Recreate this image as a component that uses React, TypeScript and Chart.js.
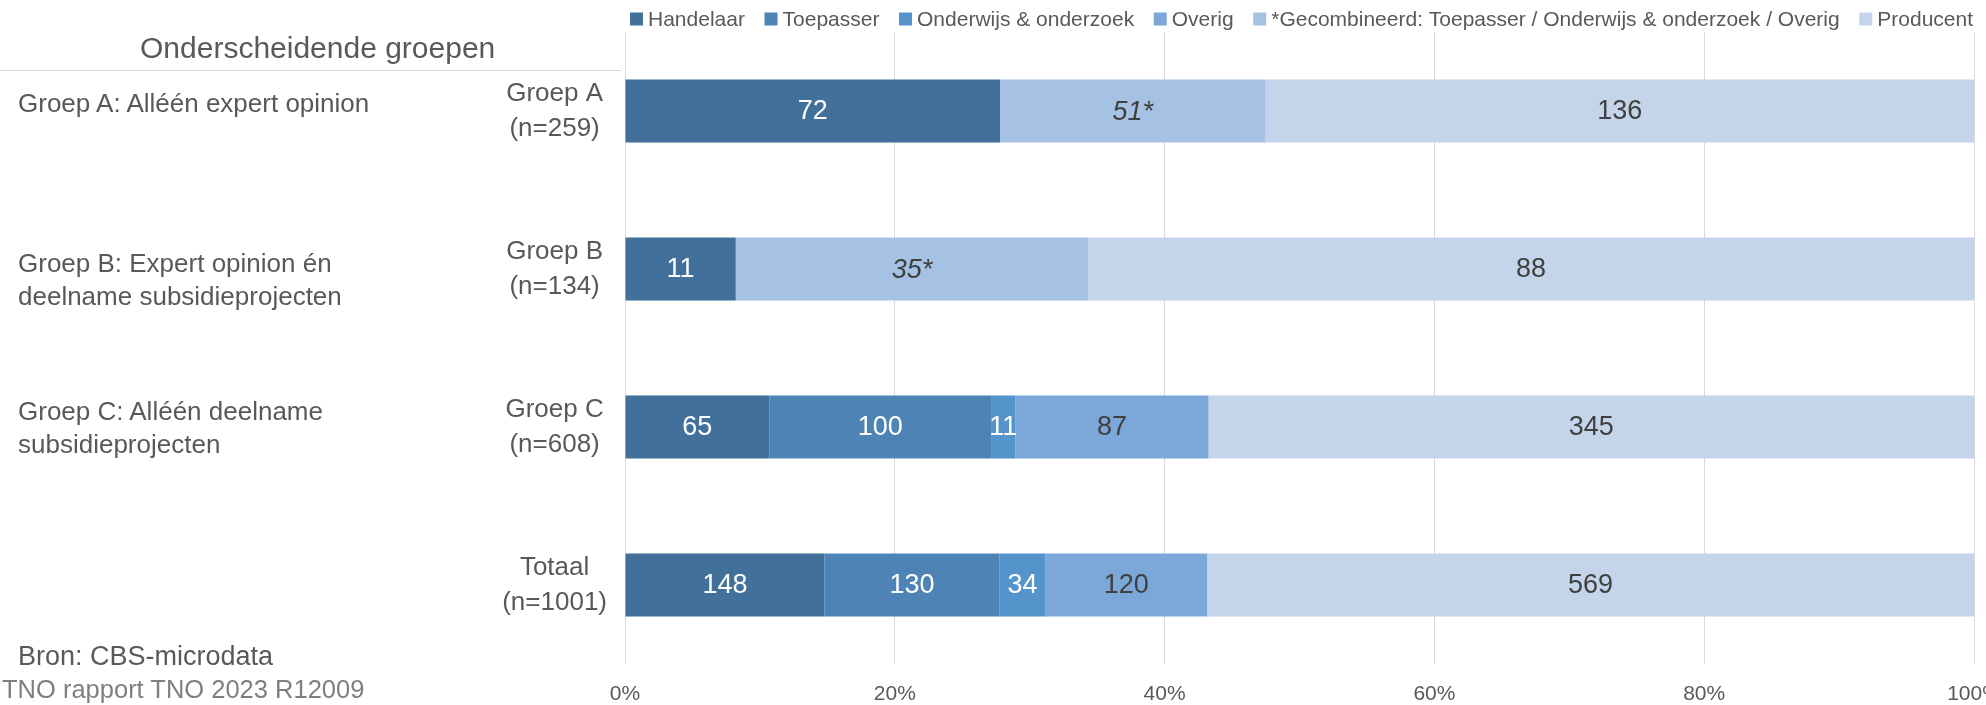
import React, { useEffect, useRef } from "react";
import { Chart, registerables } from "chart.js";

Chart.register(...registerables);

const FONT = '"Liberation Sans", Arial, sans-serif';
const TEXT = "#595959";

// ---- data ----
const categories: string[][] = [
  ["Groep A", "(n=259)"],
  ["Groep B", "(n=134)"],
  ["Groep C", "(n=608)"],
  ["Totaal", "(n=1001)"],
];

const seriesNames = [
  "Handelaar",
  "Toepasser",
  "Onderwijs & onderzoek",
  "Overig",
  "*Gecombineerd: Toepasser / Onderwijs & onderzoek / Overig",
  "Producent",
];

const handelaar = [72, 11, 65, 148];
const toepasser = [null, null, 100, 130];
const onderwijs = [null, null, 11, 34];
const overig = [null, null, 87, 120];
const gecombineerd = [51, 35, null, null];
const producent = [136, 88, 345, 569];

const xTickLabels = ["0%", "20%", "40%", "60%", "80%", "100%"];

const panelTitle = "Onderscheidende groepen";
const groupDescriptions: string[][] = [
  ["Groep A: Alléén expert opinion"],
  ["Groep B: Expert opinion én", "deelname subsidieprojecten"],
  ["Groep C: Alléén deelname", "subsidieprojecten"],
];
const sourceNote = "Bron: CBS-microdata";
const reportNote = "TNO rapport TNO 2023 R12009";

// ---- styles ----
const seriesColors = ["#41709b", "#4e83b5", "#5593cb", "#7ba8d9", "#a5c1e4", "#c4d5eb"];
const labelColors = ["#ffffff", "#ffffff", "#ffffff", "#404040", "#404040", "#404040"];
const labelItalic = [false, false, false, false, true, false];
const labelSuffix = ["", "", "", "", "*", ""];

const seriesCounts: (number | null)[][] = [handelaar, toepasser, onderwijs, overig, gecombineerd, producent];

const totals = categories.map((_, j) =>
  seriesCounts.reduce((s, arr) => s + (arr[j] == null ? 0 : (arr[j] as number)), 0)
);

const valueLabelPlugin = {
  id: "valueLabels",
  afterDatasetsDraw(chart: any) {
    const ctx = chart.ctx;
    ctx.save();
    ctx.textAlign = "center";
    ctx.textBaseline = "middle";
    chart.data.datasets.forEach((_ds: any, i: number) => {
      const meta = chart.getDatasetMeta(i);
      meta.data.forEach((el: any, j: number) => {
        const v = seriesCounts[i][j];
        if (v == null) return;
        const { x, y, base } = el.getProps(["x", "y", "base"], true);
        ctx.font = `${labelItalic[i] ? "italic " : ""}27px ${FONT}`;
        ctx.fillStyle = labelColors[i];
        ctx.fillText(String(v) + labelSuffix[i], (x + base) / 2, y + 1);
      });
    });
    ctx.restore();
  },
};

const legendPlugin = {
  id: "topLegend",
  afterDraw(chart: any) {
    const ctx = chart.ctx;
    ctx.save();
    ctx.font = `21px ${FONT}`;
    const box = 13;
    const boxGap = 5;
    const widths = seriesNames.map((n) => ctx.measureText(n).width);
    const left = 630;
    const right = 1973;
    const itemsW = widths.reduce((s, w) => s + box + boxGap + w, 0);
    const gap = (right - left - itemsW) / (seriesNames.length - 1);
    let x = left;
    const cy = 19;
    ctx.textBaseline = "middle";
    ctx.textAlign = "left";
    seriesNames.forEach((n, i) => {
      ctx.fillStyle = seriesColors[i];
      ctx.fillRect(x, cy - box / 2, box, box);
      ctx.fillStyle = TEXT;
      ctx.fillText(n, x + box + boxGap, cy + 1);
      x += box + boxGap + widths[i] + gap;
    });
    ctx.restore();
  },
};

export default function App() {
  const canvasRef = useRef<HTMLCanvasElement | null>(null);

  useEffect(() => {
    if (!canvasRef.current) return;
    const datasets = seriesNames.map((name, i) => ({
      label: name,
      data: seriesCounts[i].map((v, j) => (v == null ? null : (v / totals[j]) * 100)),
      backgroundColor: seriesColors[i],
      borderWidth: 0,
      categoryPercentage: 0.4,
      barPercentage: 1,
    }));

    const chart = new Chart(canvasRef.current, {
      type: "bar",
      data: { labels: categories, datasets },
      options: {
        indexAxis: "y",
        responsive: false,
        animation: false,
        layout: { padding: { top: 32, right: 12, bottom: 0, left: 0 } },
        plugins: {
          legend: { display: false },
          tooltip: { enabled: false },
        },
        scales: {
          x: {
            stacked: true,
            min: 0,
            max: 100,
            position: "bottom",
            ticks: {
              stepSize: 20,
              autoSkip: false,
              maxRotation: 0,
              padding: 18,
              color: TEXT,
              font: { size: 21, family: FONT },
              callback: (_v: any, i: number) => xTickLabels[i],
            },
            grid: { color: "#d9d9d9", lineWidth: 1, drawTicks: false },
            border: { display: false },
            afterFit: (s: any) => {
              s.height = 41;
              s.paddingLeft = 0;
              s.paddingRight = 0;
              s.paddingTop = 0;
              s.paddingBottom = 0;
            },
          },
          y: {
            stacked: true,
            ticks: {
              crossAlign: "center",
              padding: 18,
              color: TEXT,
              font: { size: 26, family: FONT, lineHeight: 1.35 },
            },
            grid: { display: false, drawTicks: false },
            border: { display: false },
            afterFit: (s: any) => {
              s.width = 625;
              s.paddingTop = 0;
              s.paddingBottom = 0;
              s.paddingLeft = 0;
              s.paddingRight = 0;
            },
          },
        },
      } as any,
      plugins: [valueLabelPlugin, legendPlugin],
    });
    return () => chart.destroy();
  }, []);

  const abs = (extra: React.CSSProperties): React.CSSProperties => ({
    position: "absolute",
    whiteSpace: "nowrap",
    fontFamily: FONT,
    color: TEXT,
    margin: 0,
    ...extra,
  });

  const descTops = [87, 247, 395];

  return (
    <div
      style={{
        position: "absolute",
        left: 0,
        top: 0,
        width: 1986,
        height: 705,
        background: "#ffffff",
        overflow: "hidden",
      }}
    >
      <canvas
        ref={canvasRef}
        width={1986}
        height={705}
        style={{ position: "absolute", left: 0, top: 0, width: 1986, height: 705 }}
      />
      <div style={abs({ left: 140, top: 30, fontSize: 30, lineHeight: "36px" })}>{panelTitle}</div>
      <div style={{ position: "absolute", left: 0, top: 70, width: 621, height: 1, background: "#d9d9d9" }} />
      {groupDescriptions.map((lines, i) => (
        <div key={i} style={abs({ left: 18, top: descTops[i], fontSize: 26, lineHeight: "33px" })}>
          {lines.map((l, k) => (
            <div key={k}>{l}</div>
          ))}
        </div>
      ))}
      <div style={abs({ left: 18, top: 640, fontSize: 27, lineHeight: "32px" })}>{sourceNote}</div>
      <div style={abs({ left: 2, top: 674, fontSize: 25.5, lineHeight: "30px", color: "#7f7f7f" })}>{reportNote}</div>
    </div>
  );
}
